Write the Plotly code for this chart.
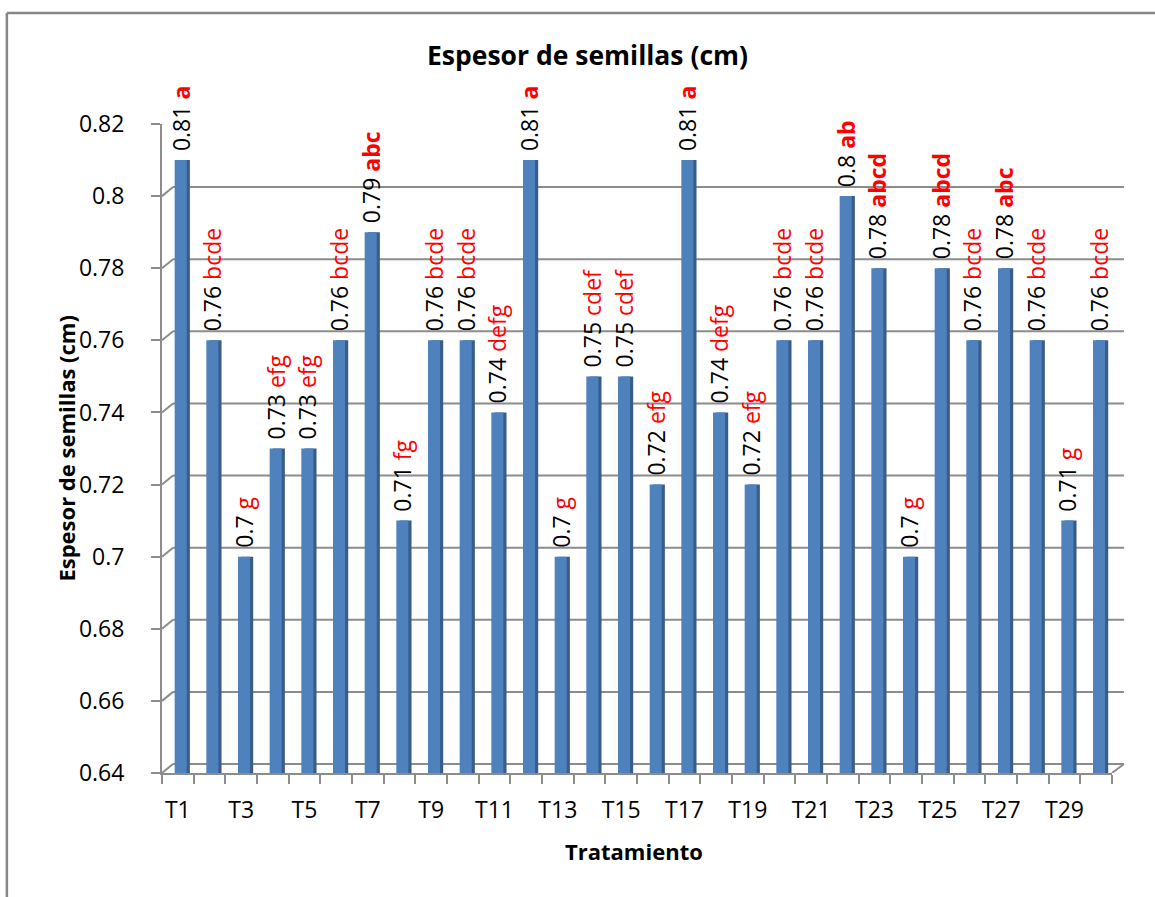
import plotly.graph_objects as go

# Treatment names, seed thickness means and Tukey grouping letters
tratamientos = [f"T{i}" for i in range(1, 31)]
espesor = [0.81, 0.76, 0.70, 0.73, 0.73, 0.76, 0.79, 0.71, 0.76, 0.76,
           0.74, 0.81, 0.70, 0.75, 0.75, 0.72, 0.81, 0.74, 0.72, 0.76,
           0.76, 0.80, 0.78, 0.70, 0.78, 0.76, 0.78, 0.76, 0.71, 0.76]
grupos = ["a", "bcde", "g", "efg", "efg", "bcde", "abc", "fg", "bcde", "bcde",
          "defg", "a", "g", "cdef", "cdef", "efg", "a", "defg", "efg", "bcde",
          "bcde", "ab", "abcd", "g", "abcd", "bcde", "abc", "bcde", "g", "bcde"]
y_ticks = [0.64, 0.66, 0.68, 0.70, 0.72, 0.74, 0.76, 0.78, 0.80, 0.82]

FONT = "Open Sans"
GRID = "#8c8c8c"
FRONT = "#4F81BD"
SIDE = "#385D8A"
BASE = y_ticks[0]

x_pos = list(range(1, len(tratamientos) + 1))
alturas = [v - BASE for v in espesor]


def etiqueta(valor, letras):
    txt = letras if "a" not in letras else f"<b>{letras}</b>"
    return f"&nbsp;{valor:g} <span style='color:#FF0000'>{txt}</span>"


textos = [etiqueta(v, g) for v, g in zip(espesor, grupos)]

fig = go.Figure()

# darker right face of each column
fig.add_trace(go.Bar(
    x=x_pos, y=alturas, base=BASE, width=0.38, offset=0.0,
    marker=dict(color=SIDE, line=dict(width=0)),
    hoverinfo="skip", showlegend=False,
))
# front face with rotated value + group labels
fig.add_trace(go.Bar(
    x=x_pos, y=alturas, base=BASE, width=0.38, offset=-0.1,
    marker=dict(color=FRONT, line=dict(width=0)),
    text=textos, textposition="outside", textangle=-90,
    constraintext="none", cliponaxis=False,
    textfont=dict(family=FONT, size=23, color="black"),
    showlegend=False,
))

# 3D-style back wall: gridlines offset up/right with slanted connectors
dx = 0.0116
dy = 0.0025
shapes = []
for v in y_ticks:
    shapes.append(dict(type="line", xref="paper", yref="y", x0=0, x1=dx,
                       y0=v, y1=v + dy, line=dict(color=GRID, width=2), layer="below"))
    shapes.append(dict(type="line", xref="paper", yref="y", x0=dx, x1=1.0126,
                       y0=v + dy, y1=v + dy, line=dict(color=GRID, width=2), layer="below"))
shapes.append(dict(type="line", xref="paper", yref="y", x0=1.0, x1=1.0126,
                   y0=BASE, y1=BASE + dy, line=dict(color=GRID, width=2), layer="below"))
# outer chart frame
shapes.append(dict(type="line", xref="paper", yref="paper", x0=-0.1633, x1=1.1,
                   y0=1.171, y1=1.171, line=dict(color="#868686", width=2.5)))
shapes.append(dict(type="line", xref="paper", yref="paper", x0=-0.1633, x1=-0.1633,
                   y0=1.171, y1=-0.25, line=dict(color="#868686", width=2.5)))

fig.update_layout(
    width=1155, height=897,
    margin=dict(l=162, r=43, t=124, b=124),
    paper_bgcolor="white", plot_bgcolor="white",
    barmode="overlay",
    font=dict(family=FONT, color="black"),
    shapes=shapes,
    annotations=[
        dict(text="<b>Espesor de semillas (cm)</b>", xref="paper", yref="paper",
             x=0.448, y=1.106, xanchor="center", yanchor="middle", showarrow=False,
             font=dict(size=26.5, family=FONT)),
        dict(text="<b>Espesor de semillas (cm)</b>", xref="paper", yref="paper",
             x=-0.102, y=0.5, xanchor="center", yanchor="middle", textangle=-90,
             showarrow=False, font=dict(size=22, family=FONT)),
        dict(text="<b>Tratamiento</b>", xref="paper", yref="paper",
             x=0.497, y=-0.12, xanchor="center", yanchor="middle", showarrow=False,
             font=dict(size=22, family=FONT)),
    ],
)

fig.update_xaxes(
    range=[0.5, len(tratamientos) + 0.5],
    tickvals=x_pos[::2], ticktext=tratamientos[::2],
    ticks="", showgrid=False, zeroline=False,
    showline=True, linecolor=GRID, linewidth=2,
    tickfont=dict(family=FONT, size=23),
    ticklabelstandoff=15,
    minor=dict(tickvals=[p - 0.5 for p in x_pos] + [x_pos[-1] + 0.5],
               ticks="outside", ticklen=9, tickcolor=GRID, tickwidth=2, showgrid=False),
)
fig.update_yaxes(
    range=[BASE, y_ticks[-1]], tickvals=y_ticks, ticktext=[f"{v:g}" for v in y_ticks],
    showgrid=False, zeroline=False,
    showline=True, linecolor=GRID, linewidth=2,
    ticks="outside", ticklen=9, tickcolor=GRID, tickwidth=2,
    tickfont=dict(family=FONT, size=23),
    ticklabelstandoff=22,
)

fig.write_html("out.html")
